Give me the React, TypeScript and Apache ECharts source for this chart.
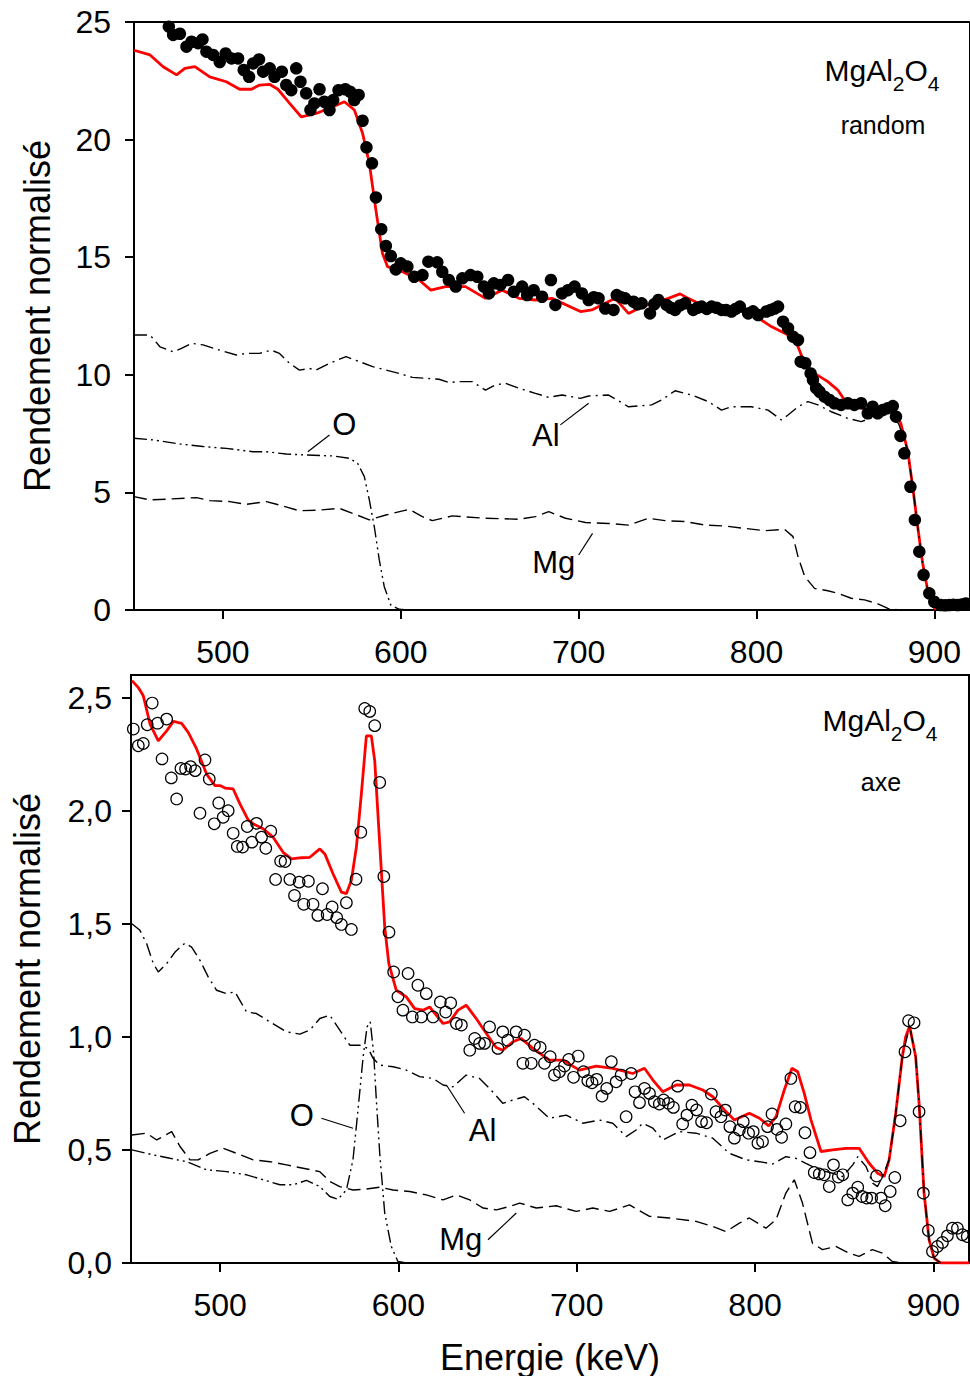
import React, { useEffect, useRef } from 'react';
import * as echarts from 'echarts';

const FONT = '"Liberation Sans", Arial, Helvetica, sans-serif';

const xTicks = [500, 600, 700, 800, 900];
const yTicksTop = [0, 5, 10, 15, 20, 25];
const yTicksBottom = [0, 0.5, 1, 1.5, 2, 2.5];

// ---------- Top panel (random) ----------
const randomExp: [number, number][] = [
  [469.6,24.8],[472,24.45],[475.8,24.5],[479.5,23.95],[482.3,24.16],[486,24.1],[488.5,24.26],[490.7,23.74],[494.5,23.6],[498.2,23.3],
  [501.5,23.66],[504.8,23.45],[508.5,23.45],[511.7,22.96],[514.7,22.67],[517,23.24],[520.3,23.41],[522.6,22.89],[526.3,23.03],[529,22.67],
  [533.1,22.89],[535.6,22.32],[538.4,22.1],[541.2,23.03],[543.6,22.46],[546.8,21.97],[549.2,21.26],[551.4,21.54],[554.3,22.14],[557,21.61],
  [559.9,21.26],[562,21.68],[565,22.1],[568.8,22.14],[571.6,22.03],[573.8,21.68],[576.3,21.9],[578.5,20.8],[580.7,19.67],[583.8,18.99],
  [586,17.54],[589,16.19],[591.6,15.48],[594.4,15.05],[597.2,14.48],[600,14.74],[603.7,14.6],[607.5,14.17],[612.2,14.24],[615.5,14.81],
  [620.5,14.78],[623.3,14.38],[627,14.03],[630.9,13.75],[634.6,14.1],[639.2,14.24],[643,14.17],[646.7,13.75],[649.5,13.46],[652.3,13.89],
  [656,13.82],[660.3,14.03],[663.5,13.53],[668.2,13.75],[671,13.39],[674.7,13.6],[679.4,13.32],[684.4,14.03],[686.9,12.97],[690.6,13.46],
  [694,13.6],[697.7,13.75],[701.8,13.46],[705.6,13.18],[708.5,13.3],[711.2,13.25],[714.9,12.82],[719.6,12.76],[721.4,13.39],[723.8,13.3],
  [726.1,13.25],[730.8,13.11],[733,13.0],[735.4,13.04],[740.1,12.61],[742.5,13.0],[744.8,13.18],[749.4,12.97],[751.8,12.85],[754.2,12.76],
  [757,12.95],[759.8,13.04],[764.4,12.76],[766.8,12.85],[769.1,12.9],[772,12.8],[774.7,12.9],[777.5,12.85],[780.3,12.76],[783,12.75],
  [785.9,12.69],[788.2,12.8],[790.6,12.9],[795.3,12.61],[798,12.7],[800.9,12.54],[805.5,12.69],[807.8,12.75],[810.2,12.82],[812.1,12.9],
  [814.9,12.26],[817.7,11.98],[820.5,11.62],[823.3,11.48],[824.8,10.56],[827.4,10.49],[830.4,10.06],[831.7,9.78],[833.5,9.43],[835.4,9.28],
  [838.2,9.07],[841,8.93],[843.8,8.79],[847.5,8.72],[851.3,8.79],[855,8.72],[858.8,8.79],[862.5,8.36],[865.3,8.64],[868.1,8.36],
  [870.9,8.5],[873.8,8.58],[876.6,8.67],[878.4,8.22],[880.9,7.4],[883.1,6.66],[886.5,5.24],[889,3.83],[891.5,2.48],[893.9,1.49],
  [897.1,0.71],[899.9,0.35],[903.6,0.21],[906,0.2],[908.3,0.21],[910.7,0.22],[913,0.21],[915.3,0.23],[917.7,0.28],
];

const randomFit: [number, number][] = [
  [450,23.8],[459,23.6],[466.4,23.1],[473.9,22.75],[478.6,23.03],[484.2,23.1],[492.6,22.67],[501.9,22.46],[509.4,22.14],[516,22.14],
  [520.6,22.32],[526.2,22.35],[530.9,22.14],[537.5,21.54],[544,20.97],[552.4,21.11],[561.7,21.4],[568.3,21.61],[573.9,21.26],[578.5,20.27],
  [582.3,18.99],[586,17.0],[589.7,15.16],[592.5,14.6],[601,14.38],[610.3,14.03],[616.9,13.6],[625.2,13.75],[636.4,13.75],[647.6,13.25],
  [657,13.6],[666.4,13.25],[675.7,13.18],[685,13.25],[701,12.69],[707.4,12.76],[720.5,13.25],[728,12.61],[733.6,12.82],[741,13.04],
  [750.4,13.25],[757,13.44],[761.6,13.25],[767.3,13.04],[780,12.9],[797.1,12.61],[808.3,12.05],[813.9,11.84],[821.4,11.55],[827,10.49],
  [832.6,10.06],[840.1,9.71],[845.7,9.35],[849.4,8.93],[856.9,8.64],[868.1,8.36],[877.4,8.5],[881.1,7.94],[884.9,6.8],[887.8,5.24],
  [890.6,3.54],[893.4,1.98],[896.2,0.85],[900,0.07],[909.2,0.07],[917.7,0.21],
];

const randomAl: [number, number][] = [
  [450,11.69],[459,11.69],[464.6,11.19],[472,10.98],[476.7,11.12],[482.3,11.34],[488.8,11.27],[498.2,11.05],[507.5,10.84],[513.2,10.91],
  [520.6,10.91],[527.1,11.05],[531.8,10.91],[537.4,10.49],[543,10.2],[548.7,10.27],[552.4,10.2],[559.9,10.49],[569.2,10.77],[576.7,10.56],
  [584.2,10.35],[591.6,10.2],[599.1,10.06],[606.5,9.89],[614,9.85],[621.5,9.81],[627.1,9.67],[632.7,9.71],[640.1,9.71],[647.6,9.35],
  [653.2,9.57],[658.9,9.64],[666.4,9.43],[675.7,9.21],[683.2,9.04],[690.6,9.14],[700.9,9.0],[705.6,9.1],[716.8,9.14],[728,8.64],
  [741,8.72],[746.6,8.93],[754.2,9.32],[763.5,9.14],[772.9,8.86],[780.3,8.5],[785.9,8.64],[797.1,8.64],[806.5,8.5],[813.9,8.08],
  [817.7,8.29],[823.3,8.64],[828.9,8.86],[834.5,8.72],[842,8.43],[851.3,8.15],[858.8,8.01],[866,8.2],[875,8.4],[880,7.9],
  [884.9,6.8],[887.8,5.24],[890.6,3.54],[893.4,1.98],[896.2,0.85],[900,0.07],[920,0],
];

const randomO: [number, number][] = [
  [450,7.3],[460.8,7.23],[475.8,7.06],[488.8,6.95],[501.9,6.87],[516.9,6.73],[524.4,6.73],[535.6,6.63],[546.8,6.59],[561.7,6.55],
  [571.1,6.45],[575.7,6.24],[579.5,5.67],[582.3,4.68],[585.1,3.54],[587.9,2.13],[590.7,0.99],[594.4,0.21],[599.1,0.03],[605,0],
];

const randomMg: [number, number][] = [
  [450,4.82],[459,4.68],[470.2,4.72],[485.1,4.78],[492.6,4.65],[503.8,4.61],[513.2,4.49],[524.4,4.61],[531.8,4.46],[543,4.22],
  [554.3,4.25],[565.5,4.32],[572.9,4.11],[582.3,3.83],[591.6,4.04],[604.7,4.28],[612.1,3.97],[617.7,3.8],[628.9,4.0],[647.6,3.9],
  [666.4,3.86],[675.7,3.97],[683.2,4.18],[692.6,3.9],[703.8,3.72],[716.8,3.68],[728,3.61],[739.2,3.9],[748.5,3.8],[759.8,3.76],
  [771,3.61],[782.2,3.57],[793.4,3.47],[804.6,3.37],[815.8,3.43],[820.5,3.12],[823.3,2.27],[827.1,1.42],[832.6,0.92],[840.1,0.82],
  [845.7,0.71],[853.2,0.5],[860.7,0.43],[868.2,0.26],[873.8,0.07],[880,0],
];

// ---------- Bottom panel (axe) ----------
const axeExp: [number, number][] = [
  [451.3,2.361],[454.1,2.287],[456.9,2.297],[459.1,2.38],[461.9,2.476],[464.9,2.387],[467.4,2.229],[470,2.405],[472.6,2.145],[475.6,2.052],
  [478,2.187],[480.6,2.184],[483.4,2.195],[486,2.177],[488.7,1.989],[491.5,2.224],[493.9,2.14],[496.7,1.942],[499.2,2.034],[501.7,1.971],
  [504.5,2.0],[507.3,1.9],[509.6,1.842],[512.6,1.839],[515.2,1.93],[517.8,1.861],[520.4,1.944],[523.2,1.883],[525.6,1.834],[528.4,1.909],
  [531.1,1.696],[533.9,1.777],[536.4,1.775],[539.1,1.696],[541.7,1.625],[544.3,1.684],[546.9,1.586],[549.5,1.688],[552.1,1.586],[554.8,1.537],
  [557.4,1.655],[560,1.541],[562.8,1.574],[565.4,1.527],[568,1.497],[570.8,1.593],[573.6,1.475],[576.2,1.697],[578.9,1.905],[581.1,2.452],
  [583.9,2.439],[586.7,2.376],[589.5,2.125],[591.8,1.709],[594.7,1.463],[597.3,1.287],[599.7,1.177],[602.5,1.118],[605.4,1.28],[607.8,1.088],
  [610.9,1.228],[612.8,1.088],[615.6,1.191],[619.4,1.088],[623.5,1.154],[626.5,1.11],[629.3,1.15],[632.5,1.059],[635.3,1.052],[640,0.941],
  [642.8,0.993],[645.5,0.971],[648.3,0.971],[651.1,1.044],[655.8,0.949],[658.5,1.022],[661.3,0.985],[666,1.022],[669.8,0.883],[670.7,1.007],
  [674.5,0.883],[676.3,0.963],[679.5,0.953],[681.9,0.883],[685.1,0.912],[687.5,0.831],[690.3,0.846],[693.1,0.871],[695.5,0.9],[698.2,0.821],
  [700.8,0.915],[703.8,0.846],[706.2,0.806],[708.6,0.797],[711.2,0.812],[714.2,0.738],[716.8,0.772],[719.4,0.89],[722.1,0.801],[724.9,0.831],
  [727.7,0.647],[730.5,0.838],[732.7,0.757],[735.2,0.709],[738,0.772],[740.8,0.75],[743.5,0.713],[746.3,0.703],[748.7,0.721],[751.4,0.706],
  [754.2,0.688],[756.6,0.782],[759.4,0.615],[761.8,0.654],[764.6,0.698],[767.2,0.677],[770,0.625],[772.8,0.62],[775.5,0.747],[778.1,0.669],
  [780.9,0.647],[783.3,0.676],[785.9,0.603],[788.4,0.552],[791.2,0.588],[793.4,0.625],[796.4,0.574],[799,0.581],[801.6,0.53],[804.2,0.537],
  [807,0.603],[809.5,0.659],[812.3,0.591],[814.9,0.556],[817.3,0.615],[820.1,0.816],[822.5,0.691],[825.4,0.688],[828,0.576],[830.8,0.488],
  [833.2,0.4],[836,0.394],[838.8,0.39],[841.6,0.338],[844,0.434],[846.7,0.38],[849.2,0.39],[852,0.279],[854.8,0.309],[857.6,0.335],
  [860,0.294],[862.6,0.287],[865.4,0.287],[868.2,0.385],[870.7,0.287],[873,0.253],[875.8,0.316],[878.4,0.378],[881.4,0.629],[884.1,0.934],
  [886.1,1.071],[889.2,1.062],[892,0.669],[894.4,0.309],[897.2,0.144],[899.5,0.051],[902.3,0.073],[905.1,0.091],[907.9,0.12],[910.7,0.154],
  [913.5,0.154],[916.3,0.125],[919,0.117],
];

const axeFit: [number, number][] = [
  [450.5,2.575],[454.1,2.545],[456.9,2.508],[460.7,2.383],[465.3,2.309],[470,2.353],[473.8,2.395],[478.4,2.386],[482.1,2.346],[486.8,2.273],
  [492.4,2.162],[497.1,2.111],[499.9,2.111],[502.7,2.1],[507.3,2.096],[511.1,2.03],[515.7,1.959],[518.5,1.942],[524.1,1.92],[529.7,1.883],
  [535.3,1.816],[540,1.787],[545.6,1.792],[550.3,1.794],[555.9,1.831],[558.7,1.809],[563.3,1.721],[568,1.64],[570.8,1.633],[573.6,1.692],
  [576.4,1.838],[579.2,2.074],[582,2.331],[584.8,2.331],[586.7,2.221],[589.5,1.853],[592.3,1.486],[594.6,1.324],[598.8,1.206],[604.4,1.177],
  [609.1,1.125],[613.8,1.118],[617.5,1.132],[621.2,1.096],[625,1.059],[628.7,1.066],[633.4,1.118],[638,1.14],[643.6,1.081],[649.3,1.015],
  [654.8,0.953],[658.5,0.941],[664.2,0.978],[668.8,0.993],[675.4,0.949],[684.7,0.897],[692.2,0.897],[701.5,0.853],[710.9,0.871],[720.2,0.861],
  [731.4,0.838],[738,0.861],[742.7,0.809],[748.3,0.757],[755.7,0.787],[763.2,0.787],[770.7,0.765],[776.3,0.735],[782.8,0.677],[788.4,0.632],
  [796.8,0.662],[802.5,0.64],[807.7,0.606],[811.8,0.647],[816.4,0.765],[820.7,0.861],[823.9,0.846],[827.6,0.75],[831.4,0.632],[837,0.493],
  [843.5,0.5],[851,0.507],[858.4,0.507],[864,0.441],[868.7,0.397],[872.4,0.382],[875.2,0.456],[878.9,0.662],[882.6,0.912],[884.5,1.0],
  [886.7,1.047],[890.1,0.912],[892,0.706],[894.8,0.309],[897.6,0.103],[900.4,0.022],[904.1,0],[920,0],
];

const axeAl: [number, number][] = [
  [450.5,1.5],[455,1.471],[458.8,1.412],[462.5,1.324],[465.3,1.287],[470,1.324],[474.7,1.375],[480.3,1.415],[484,1.397],[488.7,1.338],
  [493.3,1.265],[498,1.206],[503.6,1.191],[508.3,1.199],[514.8,1.11],[520.4,1.103],[527.9,1.066],[537.2,1.022],[544.7,1.012],[550.3,1.03],
  [555.9,1.081],[561.5,1.096],[567.1,1.03],[572.7,0.963],[578.3,0.963],[583,0.949],[585.8,0.905],[589.5,0.875],[597,0.868],[604.4,0.853],
  [611.9,0.824],[619.4,0.816],[625,0.787],[630.6,0.779],[638,0.831],[645.5,0.816],[651.1,0.772],[658.5,0.706],[664.2,0.721],[670.7,0.735],
  [675.4,0.706],[684.7,0.64],[694.1,0.654],[703.4,0.618],[712.8,0.632],[720.2,0.618],[727.7,0.559],[733.3,0.588],[737,0.618],[742.7,0.596],
  [748.3,0.544],[757.6,0.581],[766.9,0.574],[776.3,0.552],[785.6,0.485],[795,0.456],[802.5,0.448],[809.9,0.438],[817.3,0.47],[822.9,0.463],
  [828.5,0.441],[836,0.412],[843.5,0.397],[849.1,0.382],[854.8,0.434],[857.6,0.47],[862.3,0.426],[866,0.353],[868.7,0.338],[871.5,0.382],
  [875.2,0.456],[878.9,0.662],[882.6,0.912],[886.7,1.047],[890.1,0.912],[892,0.706],[894.8,0.309],[897.6,0.103],[900.4,0.022],[904.1,0],
];

const axeO: [number, number][] = [
  [450.5,0.5],[462.5,0.478],[471.8,0.463],[481.2,0.448],[492.4,0.412],[503.6,0.404],[514.8,0.39],[524.1,0.368],[533.5,0.346],[540.9,0.346],
  [548.4,0.365],[555.9,0.338],[561.5,0.294],[566.1,0.282],[570.8,0.323],[574.5,0.456],[577.3,0.676],[580.2,0.912],[582.4,1.044],[584.2,1.066],
  [586.1,0.927],[587.6,0.721],[589.5,0.485],[592.3,0.221],[596,0.073],[599.7,0.007],[605,0],
];

const axeMg: [number, number][] = [
  [450.5,0.566],[458.8,0.574],[464.4,0.544],[472.8,0.581],[477.5,0.515],[483.1,0.456],[487.7,0.456],[494.3,0.485],[501.7,0.507],[509.2,0.485],
  [518.5,0.456],[527.9,0.448],[537.2,0.434],[546.5,0.419],[555.9,0.404],[561.5,0.36],[567.1,0.338],[574.5,0.323],[582,0.327],[589.5,0.335],
  [597,0.323],[606.3,0.316],[615.6,0.301],[625,0.279],[632.5,0.301],[640,0.279],[647.5,0.243],[655,0.235],[662.4,0.25],[668,0.265],
  [677.3,0.243],[688.5,0.253],[699.7,0.228],[709,0.243],[718.4,0.228],[729.6,0.257],[740.8,0.206],[752,0.199],[766.9,0.184],[776.3,0.162],
  [783.7,0.139],[791.2,0.176],[796.8,0.199],[806.1,0.154],[811.7,0.191],[817.3,0.309],[822,0.368],[826.6,0.265],[832.2,0.088],[837.8,0.059],
  [845.3,0.073],[852.7,0.044],[858.3,0.029],[865.8,0.059],[871.4,0.044],[877,0.007],[882,0],
];

// Annotation labels (data coordinates) and leader lines
const topLabels = [
  { text: 'O', x: 568.3, y: 7.87 },
  { text: 'Al', x: 681.5, y: 7.4 },
  { text: 'Mg', x: 686, y: 2.04 },
];
const topLeaders = [
  [[547.7, 6.73], [559.9, 7.44]],
  [[689.7, 7.87], [705.6, 8.79]],
  [[700, 2.34], [707.8, 3.26]],
];
const bottomLabels = [
  { text: 'O', x: 545.8, y: 0.654 },
  { text: 'Al', x: 647.2, y: 0.588 },
  { text: 'Mg', x: 634.9, y: 0.103 },
];
const bottomLeaders = [
  [[556.8, 0.64], [574.5, 0.596]],
  [[637.1, 0.662], [626.9, 0.787]],
  [[650.2, 0.103], [666.1, 0.221]],
];

const DASH_AL = [13, 5, 2, 5];
const DASH_O = [13, 4, 2, 4, 2, 4];
const DASH_MG = [13, 6];

function xAxisCfg(gridIndex: number, withName: boolean): any {
  return {
    type: 'value', gridIndex, min: 450, max: 920,
    name: withName ? 'Energie (keV)' : '',
    nameLocation: 'middle', nameGap: 76,
    nameTextStyle: { fontSize: 36, color: '#000', fontFamily: FONT },
    axisLine: { show: true, onZero: false, lineStyle: { color: '#000', width: 2 } },
    axisTick: { show: true, length: 9, customValues: xTicks, lineStyle: { color: '#000', width: 2 } },
    axisLabel: { customValues: xTicks, fontSize: 32, color: '#000', fontFamily: FONT, margin: 26 },
    splitLine: { show: false },
  };
}

function yAxisCfg(gridIndex: number, max: number, ticks: number[], gap: number, margin: number, fmt: (v: number) => string): any {
  return {
    type: 'value', gridIndex, min: 0, max,
    name: 'Rendement normalisé', nameLocation: 'middle', nameGap: gap,
    nameTextStyle: { fontSize: 36, color: '#000', fontFamily: FONT },
    axisLine: { show: true, onZero: false, lineStyle: { color: '#000', width: 2 } },
    axisTick: { show: true, length: 9, customValues: ticks, lineStyle: { color: '#000', width: 2 } },
    axisLabel: { customValues: ticks, fontSize: 32, color: '#000', fontFamily: FONT, margin, formatter: fmt },
    splitLine: { show: false },
  };
}

function simLine(name: string, data: [number, number][], dash: number[], idx: number, z: number): any {
  return {
    name, type: 'line', xAxisIndex: idx, yAxisIndex: idx, data,
    showSymbol: false, symbol: 'none', z,
    lineStyle: { color: '#000', width: 1.4, type: dash, opacity: 1 },
  };
}

function labelSeries(labels: { text: string; x: number; y: number }[], idx: number): any {
  return {
    type: 'scatter', xAxisIndex: idx, yAxisIndex: idx, symbolSize: 1, z: 10,
    itemStyle: { color: 'rgba(0,0,0,0)', opacity: 1 },
    data: labels.map((l) => ({ value: [l.x, l.y], name: l.text })),
    label: { show: true, position: 'inside', formatter: '{b}', fontSize: 31, color: '#000', opacity: 1, fontFamily: FONT },
  };
}

function leaderSeries(leaders: number[][][], idx: number): any {
  return {
    type: 'lines', coordinateSystem: 'cartesian2d', xAxisIndex: idx, yAxisIndex: idx, z: 10,
    lineStyle: { color: '#000', width: 1.2, opacity: 1 },
    data: leaders.map((c) => ({ coords: c })),
  };
}

function formulaText(x: number, y: number): any {
  return {
    type: 'text', x, y, z: 100,
    style: {
      text: '{a|MgAl}{s|2}{a|O}{s|4}',
      align: 'center', verticalAlign: 'middle',
      rich: {
        a: { fontSize: 30, fontFamily: FONT, fill: '#000' },
        s: { fontSize: 21, fontFamily: FONT, fill: '#000', padding: [26, 0, 0, 0] },
      },
    },
  };
}

export default function App() {
  const ref = useRef<HTMLDivElement>(null);
  useEffect(() => {
    if (!ref.current) return;
    const chart = echarts.init(ref.current, undefined, { renderer: 'svg' });
    const option: any = {
      animation: false,
      backgroundColor: '#fff',
      grid: [
        { left: 134, top: 22, width: 838, height: 588, show: true, borderColor: '#000', borderWidth: 2, backgroundColor: 'transparent' },
        { left: 131, top: 675, width: 838, height: 588, show: true, borderColor: '#000', borderWidth: 2, backgroundColor: 'transparent' },
      ],
      xAxis: [xAxisCfg(0, false), xAxisCfg(1, true)],
      yAxis: [
        yAxisCfg(0, 25, yTicksTop, 79, 23, (v: number) => String(v)),
        yAxisCfg(1, 2.6, yTicksBottom, 86, 19, (v: number) => v.toFixed(1).replace('.', ',')),
      ],
      series: [
        {
          name: 'random fit', type: 'line', xAxisIndex: 0, yAxisIndex: 0, data: randomFit,
          showSymbol: false, symbol: 'none', z: 2, lineStyle: { color: '#ff0000', width: 2.8, opacity: 1 },
        },
        simLine('Al random', randomAl, DASH_AL, 0, 3),
        simLine('O random', randomO, DASH_O, 0, 3),
        simLine('Mg random', randomMg, DASH_MG, 0, 3),
        {
          name: 'random exp', type: 'scatter', xAxisIndex: 0, yAxisIndex: 0, data: randomExp,
          symbol: 'circle', symbolSize: 12.5, itemStyle: { color: '#000', opacity: 1 }, z: 4,
        },
        labelSeries(topLabels, 0),
        leaderSeries(topLeaders, 0),

        {
          name: 'axe fit', type: 'line', xAxisIndex: 1, yAxisIndex: 1, data: axeFit,
          showSymbol: false, symbol: 'none', z: 2, lineStyle: { color: '#ff0000', width: 2.8, opacity: 1 },
        },
        simLine('Al axe', axeAl, DASH_AL, 1, 3),
        simLine('O axe', axeO, DASH_O, 1, 3),
        simLine('Mg axe', axeMg, DASH_MG, 1, 3),
        {
          name: 'axe exp', type: 'scatter', xAxisIndex: 1, yAxisIndex: 1, data: axeExp,
          symbol: 'circle', symbolSize: 11.5, z: 4,
          itemStyle: { color: 'rgba(255,255,255,0)', borderColor: '#000', borderWidth: 1.2, opacity: 1 },
        },
        labelSeries(bottomLabels, 1),
        leaderSeries(bottomLeaders, 1),
      ],
      graphic: [
        formulaText(882, 70),
        { type: 'text', x: 883, y: 125, z: 100, style: { text: 'random', fontSize: 25, fontFamily: FONT, fill: '#000', align: 'center', verticalAlign: 'middle' } },
        formulaText(880, 720),
        { type: 'text', x: 881, y: 782, z: 100, style: { text: 'axe', fontSize: 25, fontFamily: FONT, fill: '#000', align: 'center', verticalAlign: 'middle' } },
      ],
    };
    chart.setOption(option);
    return () => chart.dispose();
  }, []);
  return (
    <div
      ref={ref}
      style={{ position: 'absolute', left: 0, top: 0, width: 970, height: 1376, background: '#fff' }}
    />
  );
}
